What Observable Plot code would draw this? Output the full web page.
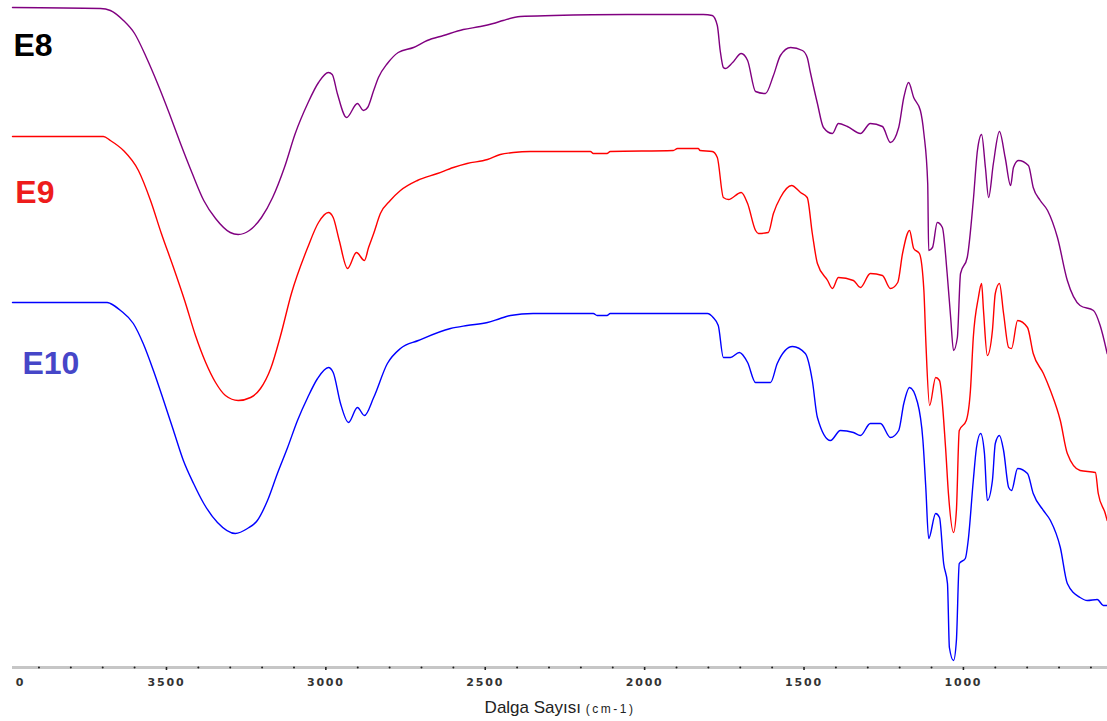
<!DOCTYPE html>
<html>
<head>
<meta charset="utf-8">
<script src="https://cdn.jsdelivr.net/npm/d3@7"></script>
<script src="https://cdn.jsdelivr.net/npm/@observablehq/plot@0.6"></script>
<style>
  body { margin: 0; background: #fff; }
  #title { width: 1107px; box-sizing: border-box; padding-left: 13px; padding-top: 3px; text-align: center;
           font-family: "Liberation Sans", Arial, sans-serif; font-size: 17px; line-height: 19px; color: #222; }
  #title small { font-size: 12px; letter-spacing: 2.5px; }
</style>
</head>
<body>
<div id="chart"></div>
<div id="title">Dalga Sayısı <small>(cm-1)</small></div>
<script>
// Series names and colours
const seriesNames = ["E8", "E9", "E10"];
const seriesColors = ["#800080", "#ff0000", "#0000ff"];
const labelColors = ["#000000", "#ee1c1c", "#4646c8"];

// [wavenumber (cm-1), relative transmittance]
const e8 = [
  [3983,660],[3707,659],[3676,657],[3635,647],[3600,634],[3563,610],[3528,584],[3491,554],[3456,524],[3419,494],
  [3383,467],[3346,449],[3300,435],[3275,433],[3240,437],[3202,450],[3167,470],[3130,500],[3096,534],[3057,564],
  [3023,585],[2992,595],[2980,593],[2964,574],[2935,550],[2901,564],[2882,557],[2869,560],[2850,577],[2835,590],
  [2807,604],[2773,615],[2725,620],[2682,627],[2631,632],[2569,638],[2515,641],[2475,644],[2444,647],[2390,651],
  [2286,652],[2055,653],[1816,653],[1788,652],[1772,642],[1763,617],[1753,600],[1747,599],[1724,605],[1697,614],
  [1677,607],[1652,576],[1621,574],[1596,592],[1574,612],[1542,620],[1505,617],[1490,610],[1480,595],[1458,564],
  [1439,540],[1411,534],[1392,544],[1364,541],[1323,534],[1292,544],[1254,541],[1229,525],[1203,540],[1187,570],
  [1172,585],[1156,570],[1135,557],[1124,534],[1112,484],[1109,417],[1097,420],[1082,445],[1066,440],[1051,394],
  [1040,350],[1031,317],[1019,330],[1009,394],[988,410],[969,467],[956,517],[943,533],[931,500],[921,470],
  [906,504],[887,536],[869,510],[852,482],[843,500],[827,507],[796,502],[781,480],[759,467],[736,457],
  [705,430],[674,387],[634,362],[592,357],[571,342],[549,314]
];
const e9 = [
  [3983,531],[3698,531],[3676,527],[3635,517],[3588,497],[3550,467],[3516,434],[3478,400],[3443,367],[3409,332],
  [3377,305],[3346,285],[3315,272],[3275,267],[3236,270],[3205,279],[3173,299],[3142,332],[3108,374],[3057,420],
  [3023,445],[2992,455],[2977,450],[2958,427],[2932,399],[2904,415],[2879,407],[2866,420],[2850,434],[2829,454],
  [2798,467],[2766,477],[2713,487],[2650,494],[2600,500],[2557,504],[2493,508],[2453,513],[2412,515],[2359,516],
  [2170,516],[2161,514],[2118,514],[2108,516],[1910,517],[1897,519],[1832,519],[1826,517],[1788,516],[1772,510],
  [1753,470],[1737,468],[1697,475],[1677,464],[1652,437],[1643,434],[1612,435],[1596,454],[1574,470],[1539,482],
  [1511,475],[1490,470],[1474,434],[1458,404],[1426,387],[1411,379],[1392,390],[1345,387],[1323,380],[1292,394],
  [1254,392],[1229,379],[1206,385],[1191,414],[1169,437],[1156,419],[1138,414],[1124,377],[1118,327],[1106,262],
  [1087,290],[1075,287],[1056,220],[1047,174],[1031,135],[1022,157],[1013,237],[991,247],[978,277],[969,330],
  [953,370],[943,384],[937,357],[925,312],[909,337],[900,374],[887,384],[874,354],[858,320],[849,319],
  [830,347],[799,340],[781,314],[749,294],[727,277],[696,247],[674,214],[634,197],[586,195],[577,174],
  [555,154],[549,147]
];
const e10 = [
  [3983,365],[3686,365],[3676,364],[3644,357],[3604,344],[3573,324],[3541,297],[3509,267],[3478,237],[3447,207],
  [3415,184],[3383,164],[3340,145],[3284,134],[3246,139],[3215,147],[3183,167],[3152,194],[3120,220],[3089,247],
  [3057,270],[3026,289],[2992,300],[2977,295],[2954,264],[2929,245],[2901,260],[2879,252],[2850,270],[2807,304],
  [2766,319],[2710,327],[2609,339],[2557,342],[2493,345],[2453,349],[2421,352],[2350,354],[2161,354],[2149,352],
  [2118,352],[2108,354],[1803,354],[1785,350],[1769,342],[1753,310],[1731,310],[1703,315],[1677,305],[1652,285],
  [1605,285],[1584,304],[1536,321],[1496,314],[1474,287],[1458,250],[1417,227],[1386,237],[1345,235],[1323,232],
  [1292,244],[1260,244],[1229,230],[1203,237],[1187,264],[1169,280],[1144,265],[1127,227],[1118,180],[1109,129],
  [1087,154],[1075,150],[1062,104],[1050,84],[1044,20],[1031,7],[1022,27],[1013,104],[994,109],[985,127],
  [969,187],[959,220],[946,234],[934,214],[925,167],[909,187],[900,224],[887,232],[874,217],[858,180],
  [849,177],[830,199],[799,194],[781,174],[749,157],[727,147],[696,120],[674,84],[634,70],[611,67],
  [580,68],[561,62],[549,62]
];

// Axis ticks and labels
const majorTicks = [3500, 3000, 2500, 2000, 1500, 1000];
const minorTicks = [3900, 3800, 3700, 3600, 3400, 3300, 3200, 3100, 2900, 2800, 2700, 2600,
                    2400, 2300, 2200, 2100, 1900, 1800, 1700, 1600, 1400, 1300, 1200, 1100,
                    900, 800, 700, 600];
const labelTickValues = [3958, 3500, 3000, 2500, 2000, 1500, 1000];
const labelTickTexts = ["0", "3500", "3000", "2500", "2000", "1500", "1000"];

// Series label positions (wavenumber, transmittance at baseline)
const labelW = [3980, 3974, 3952];
const labelT = [612, 465, 294];

const seriesData = [e8, e9, e10];
const rows = seriesData.flatMap((pts, i) => pts.map(([w, t]) => ({series: seriesNames[i], w, t})));
const labelRows = seriesNames.map((name, i) => ({name, w: labelW[i], t: labelT[i], color: labelColors[i]}));
const tickText = new Map(labelTickValues.map((v, i) => [v, labelTickTexts[i]]));

const chart = Plot.plot({
  width: 1107,
  height: 695,
  marginTop: 0,
  marginBottom: 28,
  marginLeft: 12,
  marginRight: 0,
  x: {domain: [3983, 548], axis: null},
  y: {domain: [0, 667], axis: null},
  color: {domain: seriesNames, range: seriesColors},
  style: {fontFamily: "DejaVu Sans, sans-serif", background: "#fff", overflow: "visible"},
  marks: [
    Plot.ruleY([0], {stroke: "#c6c6c6", strokeWidth: 3}),
    Plot.dot(minorTicks, {x: d => d, frameAnchor: "bottom", r: 1, fill: "#222", stroke: null}),
    Plot.axisX(majorTicks, {tickSize: 3, stroke: "#222", strokeWidth: 1.6, tickFormat: () => "", label: null}),
    Plot.axisX(labelTickValues, {tickSize: 0, tickPadding: 11, tickFormat: d => tickText.get(d), label: null,
                                  fontSize: 11, fontWeight: "bold", color: "#333"}),
    Plot.line(rows, {x: "w", y: "t", z: "series", stroke: "series", strokeWidth: 1.4, curve: "monotone-x"}),
    Plot.text(labelRows, {x: "w", y: "t", text: "name", fill: "color", textAnchor: "start", lineAnchor: "bottom",
                          fontSize: 32, fontWeight: "bold", fontFamily: "Liberation Sans, Arial, sans-serif"})
  ]
});
document.getElementById("chart").appendChild(chart);
d3.select(chart).selectAll('g[aria-label="x-axis tick label"] text').style("letter-spacing", "1.8px");
</script>
</body>
</html>
